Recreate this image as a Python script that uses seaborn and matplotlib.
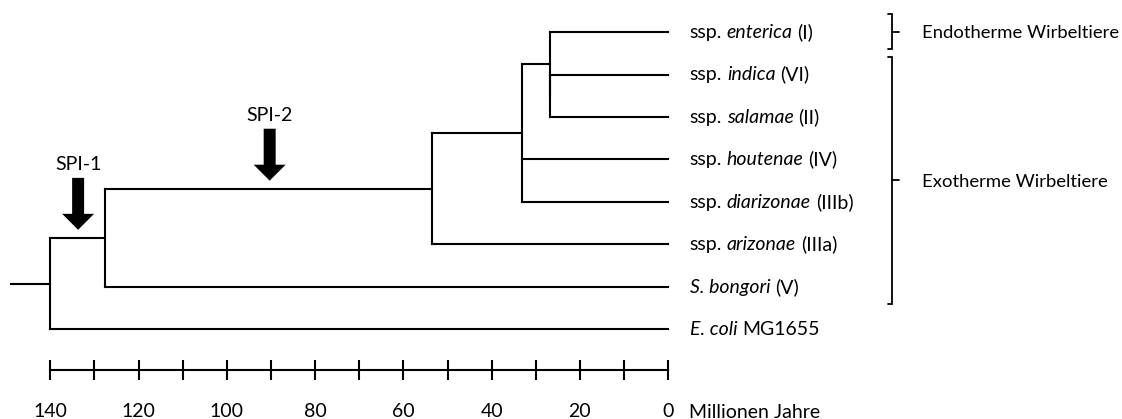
import matplotlib
matplotlib.use("Agg")
import numpy as np
import pandas as pd
import matplotlib.pyplot as plt
from matplotlib.ticker import FixedLocator, FixedFormatter
from matplotlib.offsetbox import TextArea, HPacker, AnnotationBbox
import seaborn as sns

# ---- taxa (tips of the tree, top to bottom) ----
leaf_ids = ["enterica", "indica", "salamae", "houtenae", "diarizonae",
            "arizonae", "bongori", "ecoli"]
leaf_prefix = ["ssp.", "ssp.", "ssp.", "ssp.", "ssp.", "ssp.", "", ""]
leaf_italic = ["enterica", "indica", "salamae", "houtenae", "diarizonae",
               "arizonae", "S. bongori", "E. coli"]
leaf_suffix = ["(I)", "(VI)", "(II)", "(IV)", "(IIIb)", "(IIIa)", "(V)", "MG1655"]

# ---- internal nodes: divergence time (Mio. Jahre) and descendants ----
node_ids = ["root", "n1", "n2", "n3", "n4", "n4a"]
node_age = [140.0, 127.5, 53.6, 33.2, 26.8, 26.8]
node_children = [["n1", "ecoli"],
                 ["n2", "bongori"],
                 ["n3", "arizonae"],
                 ["n4", "houtenae", "diarizonae"],
                 ["enterica", "n4a"],
                 ["indica", "salamae"]]
root_stem_age = 149.0

# ---- acquisition of pathogenicity islands on branches ----
event_labels = ["SPI-1", "SPI-2"]
event_age = [133.7, 90.3]
event_branch = ["n1", "n2"]

# ---- host groups ----
group_labels = ["Endotherme Wirbeltiere", "Exotherme Wirbeltiere"]
group_members = [["enterica"],
                 ["indica", "salamae", "houtenae", "diarizonae", "arizonae", "bongori"]]

# ---- time scale ----
scale_ticks = [140, 130, 120, 110, 100, 90, 80, 70, 60, 50, 40, 30, 20, 10, 0]
scale_labels = ["140", "", "120", "", "100", "", "80", "", "60", "", "40", "",
                "20", "", "0"]
scale_unit = "Millionen Jahre"

# ---------------------------------------------------------------------------
sns.set_theme(style="white")
FONT = "Lato"
FS = 14
FS_GROUP = 13.3
plt.rcParams["font.family"] = [FONT, "DejaVu Sans"]
plt.rcParams["text.color"] = "black"

# tree layout: tips on integer rows, inner nodes midway between outer children
age = {n: 0.0 for n in leaf_ids}
age.update(dict(zip(node_ids, node_age)))
ypos = {n: float(i) for i, n in enumerate(leaf_ids)}
children = dict(zip(node_ids, node_children))


def place(n):
    if n not in ypos:
        ys = [place(c) for c in children[n]]
        ypos[n] = (min(ys) + max(ys)) / 2.0
    return ypos[n]


place("root")

rows = []
seg = 0


def add_segment(x0, y0, x1, y1):
    global seg
    rows.append((seg, x0, y0))
    rows.append((seg, x1, y1))
    seg += 1


for n in node_ids:
    ys = [ypos[c] for c in children[n]]
    add_segment(age[n], min(ys), age[n], max(ys))
    for c in children[n]:
        if age[c] != age[n]:
            add_segment(age[n], ypos[c], age[c], ypos[c])
add_segment(root_stem_age, ypos["root"], age["root"], ypos["root"])

branches = pd.DataFrame(rows, columns=["seg", "age", "row"])

fig = plt.figure(figsize=(11.22, 4.19), dpi=100)
ax = fig.add_axes([0, 0, 1, 1])
ax.set_facecolor("white")

sns.lineplot(data=branches, x="age", y="row", units="seg", estimator=None,
             sort=False, color="black", linewidth=1.5,
             solid_capstyle="projecting", legend=False, ax=ax)

ax.set_xlim(151.40, -102.82)
ax.set_ylim(9.106, -0.753)
ax.set_xlabel("")
ax.set_ylabel("")
ax.set_yticks([])

# time scale bar built from the x axis
scale_row = 7.95
for s in ("left", "top", "right"):
    ax.spines[s].set_visible(False)
ax.spines["bottom"].set_position(("data", scale_row))
ax.spines["bottom"].set_bounds(min(scale_ticks), max(scale_ticks))
ax.spines["bottom"].set_linewidth(1.5)
ax.spines["bottom"].set_color("black")
ax.xaxis.set_major_locator(FixedLocator(scale_ticks))
ax.xaxis.set_major_formatter(FixedFormatter(scale_labels))
ax.tick_params(axis="x", direction="inout", length=14.4, width=1.5,
               colors="black", labelsize=FS, pad=17, bottom=True)
ax.annotate(scale_unit, xy=(0, scale_row), xytext=(15.0, -24.4),
            textcoords="offset points", ha="left", va="top", fontsize=FS)

# tip labels (mixed upright / italic)
normal = dict(fontsize=FS, color="black", family=[FONT, "DejaVu Sans"])
italic = dict(normal, style="italic")
for i, n in enumerate(leaf_ids):
    parts = []
    if leaf_prefix[i]:
        parts.append(TextArea(leaf_prefix[i], textprops=normal))
    parts.append(TextArea(leaf_italic[i], textprops=italic))
    parts.append(TextArea(leaf_suffix[i], textprops=normal))
    box = HPacker(children=parts, align="baseline", pad=0, sep=3.4)
    ab = AnnotationBbox(box, (0, ypos[n]), xybox=(15.5, 0), xycoords="data",
                        boxcoords="offset points", box_alignment=(0, 0.5),
                        frameon=False, pad=0)
    ax.add_artist(ab)

# pathogenicity island arrows
for lab, a, b in zip(event_labels, event_age, event_branch):
    ax.annotate("", xy=(a, ypos[b]), xytext=(0, 43.2), textcoords="offset points",
                arrowprops=dict(arrowstyle="simple,head_length=0.5,head_width=1.0,tail_width=0.375",
                                mutation_scale=23, fc="black", ec="none",
                                shrinkA=0, shrinkB=5.8))
    ax.annotate(lab, xy=(a, ypos[b]), xytext=(0, 53.6), textcoords="offset points",
                ha="center", va="center_baseline", fontsize=FS)

# host group brackets
bracket_age = -50.8
hook = 1.1
nib = 1.4
for lab, members in zip(group_labels, group_members):
    rs = [ypos[m] for m in members]
    top, bot = min(rs) - 0.42, max(rs) + 0.40
    mid = (top + bot) / 2
    ax.plot([bracket_age + hook, bracket_age, bracket_age, bracket_age + hook],
            [top, top, bot, bot], color="black", lw=1.3, solid_joinstyle="miter")
    ax.plot([bracket_age, bracket_age - nib], [mid, mid], color="black", lw=1.3)
    ax.annotate(lab, xy=(bracket_age, mid), xytext=(21.2, 0),
                textcoords="offset points", ha="left", va="center_baseline",
                fontsize=FS_GROUP)

fig.savefig("out.png", dpi=100)
